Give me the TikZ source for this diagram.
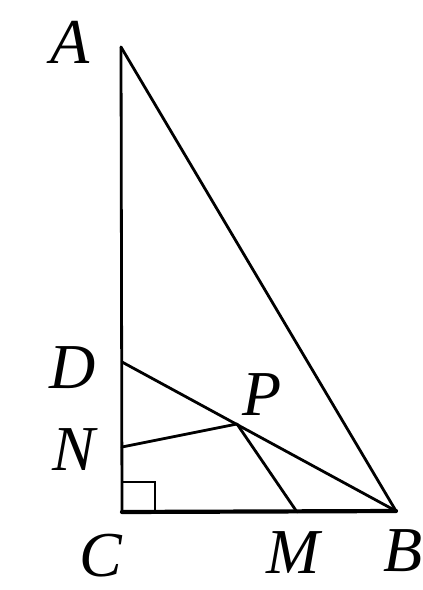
\documentclass[tikz,border=0pt]{standalone}
\usepackage{fontspec}
\setmainfont{Liberation Serif}
\begin{document}
\begin{tikzpicture}[x=1pt,y=-1pt,
  edge/.style={line width=2.8pt, line cap=round, line join=round},
  lbl/.style={font=\fontsize{64}{64}\selectfont\itshape, inner sep=0pt}]
\useasboundingbox (0,0) rectangle (423,590);
\coordinate (A) at (121,47);
\coordinate (C) at (122,512);
\coordinate (B) at (396,511);
\coordinate (D) at (122,362);
\coordinate (N) at (122,447);
\coordinate (M) at (297,512);
\coordinate (P) at (237,424);
\draw[edge] (A) -- (C);
\draw[edge, line width=4.2pt] (C) -- (B);
\draw[edge] (A) -- (B);
\draw[edge] (D) -- (B);
\draw[edge] (N) -- (P) -- (M);
\draw[line width=2.8pt] (122,482) -| (155,512);
\node[lbl] (lA) at (70,42) {A};
\node[lbl] (lD) at (73,368) {D};
\node[lbl] (lN) at (74,450) {N};
\node[lbl] (lP) at (262,395) {P};
\node[lbl] (lC) at (101,556) {C};
\node[lbl] (lM) at (293,553) {M};
\node[lbl] (lB) at (403,551) {B};
\end{tikzpicture}
\end{document}
